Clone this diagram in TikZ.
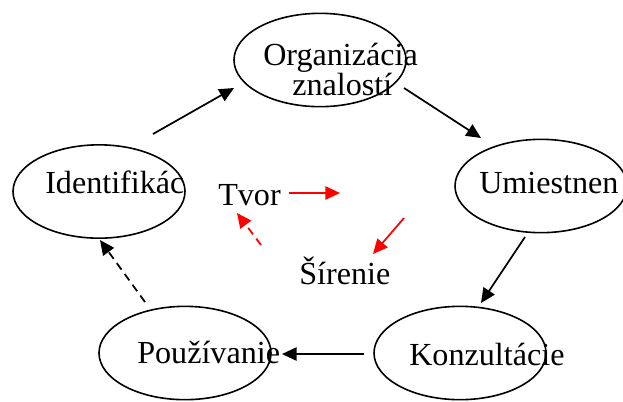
\documentclass[tikz,border=0pt]{standalone}
\usepackage{fontspec}
\setmainfont{Liberation Serif}
\usetikzlibrary{shapes.geometric,arrows.meta}

\tikzset{
  bubble/.style={ellipse, draw, line width=1.2pt, inner sep=0pt,
    minimum width=129pt, minimum height=70pt},
  word/.style={anchor=base west, inner sep=0pt,
    font=\fontsize{24.1}{28}\selectfont},
  flow/.style={line width=1.3pt, -{Triangle[length=11pt,width=10pt]}},
  redflow/.style={flow, red},
  dashflow/.style={flow, dash pattern=on 6pt off 4pt},
}

\begin{document}
\begin{tikzpicture}[x=0.75pt,y=-0.75pt]
  \useasboundingbox (0,0) rectangle (623,401);

  % the five stages of the cycle
  \node[bubble] (org)   at (320,60)    {};
  \node[bubble] (umi)   at (541,186)   {};
  \node[bubble] (ident) at (99,191.5)  {};
  \node[bubble] (pouz)  at (185,353)   {};
  \node[bubble] (konz)  at (460,353)   {};

  % stage labels
  \node[word] (torg)  at (263,65)  {Organizácia};
  \node[word] (torg2) at (292,95)  {znalostí};
  \node[word] (tumi)  at (479,193) {Umiestnen};
  \node[word] (tid)   at (45,193)  {Identifikác};
  \node[word] (tpou)  at (137,363) {Používanie};
  \node[word] (tkon)  at (409,365) {Konzultácie};

  % inner cycle labels
  \node[word] (tvor) at (218,205) {Tvor};
  \node[word] (sir)  at (299,284) {Šírenie};

  % connector end points
  \coordinate (a1) at (153,134); \coordinate (a2) at (234,88);
  \coordinate (b1) at (404,88);  \coordinate (b2) at (481,138);
  \coordinate (c1) at (525,237); \coordinate (c2) at (481,303);
  \coordinate (d1) at (364,354); \coordinate (d2) at (282,354);
  \coordinate (e1) at (145,302); \coordinate (e2) at (100,240);

  \coordinate (r1) at (289,193); \coordinate (r2) at (340,193);
  \coordinate (s1) at (404,218); \coordinate (s2) at (373,254);
  \coordinate (q1) at (261,245); \coordinate (q2) at (237,213);

  % outer cycle
  \draw[flow]     (a1) -- (a2);
  \draw[flow]     (b1) -- (b2);
  \draw[flow]     (c1) -- (c2);
  \draw[flow]     (d1) -- (d2);
  \draw[dashflow] (e1) -- (e2);

  % inner cycle
  \draw[redflow] (r1) -- (r2);
  \draw[redflow] (s1) -- (s2);
  \draw[redflow, dash pattern=on 6pt off 4pt] (q1) -- (q2);
\end{tikzpicture}
\end{document}
